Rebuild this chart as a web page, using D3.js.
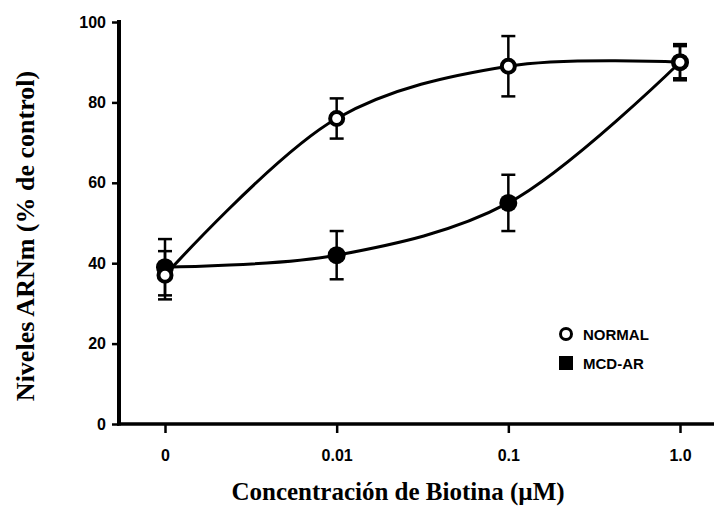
<!DOCTYPE html>
<html><head><meta charset="utf-8">
<script src="https://cdn.jsdelivr.net/npm/d3@7/dist/d3.min.js"></script>
<style>body{margin:0;background:#fff}svg{display:block}</style>
</head><body>
<svg id="c" width="714" height="507"></svg>
<script>
const categories = ["0", "0.01", "0.1", "1.0"];
const normalValues = [37, 76, 89, 90];
const normalErrors = [6, 5, 7.5, 4.5];
const mcdValues = [39, 42, 55, 90];
const mcdErrors = [7, 6, 7, 4];
const yTicks = [0, 20, 40, 60, 80, 100];
const seriesNames = ["NORMAL", "MCD-AR"];

const svg = d3.select("#c");
const x = d3.scalePoint().domain(categories).range([165, 680]);
const y = d3.scaleLinear().domain([0, 100]).range([424, 22]);
const x0 = 119;

// axes
const yAxis = svg.append("g").attr("transform", `translate(${x0},0)`)
  .call(d3.axisLeft(y).tickValues(yTicks).tickSize(7).tickPadding(6));
yAxis.select(".domain").remove();
yAxis.selectAll("line").attr("stroke", "#000").attr("stroke-width", 2.5);
yAxis.selectAll("text").attr("font-family", "Liberation Sans, Arial, sans-serif")
  .attr("font-weight", "900").attr("font-size", 16).attr("fill", "#000");

const xAxis = svg.append("g").attr("transform", `translate(0,${y(0)})`)
  .call(d3.axisBottom(x).tickSize(9).tickPadding(17));
xAxis.select(".domain").remove();
xAxis.selectAll("line").attr("stroke", "#000").attr("stroke-width", 2.5);
xAxis.selectAll("text").attr("font-family", "Liberation Sans, Arial, sans-serif")
  .attr("font-weight", "900").attr("font-size", 16).attr("fill", "#000");

svg.append("line").attr("x1", x0).attr("x2", x0).attr("y1", y(100) - 2).attr("y2", y(0) + 1.5)
  .attr("stroke", "#000").attr("stroke-width", 4);
svg.append("line").attr("x1", x0 - 2).attr("x2", 714).attr("y1", y(0)).attr("y2", y(0))
  .attr("stroke", "#000").attr("stroke-width", 3.5);

// lines
const line = d3.line().x((d, i) => x(categories[i])).y(d => y(d)).curve(d3.curveCatmullRom.alpha(0.5));
[normalValues, mcdValues].forEach(vals => {
  svg.append("path").attr("d", line(vals)).attr("fill", "none")
    .attr("stroke", "#000").attr("stroke-width", 3);
});

// error bars
function errBars(vals, errs) {
  vals.forEach((v, i) => {
    const cx = x(categories[i]);
    const g = svg.append("g").attr("stroke", "#000").attr("stroke-width", 2.5);
    g.append("line").attr("x1", cx).attr("x2", cx).attr("y1", y(v + errs[i])).attr("y2", y(v - errs[i]));
    [v + errs[i], v - errs[i]].forEach(e => {
      g.append("line").attr("x1", cx - 7).attr("x2", cx + 7).attr("y1", y(e)).attr("y2", y(e));
    });
  });
}
errBars(normalValues, normalErrors);
errBars(mcdValues, mcdErrors);

// markers
svg.selectAll(".mcd").data(mcdValues).enter().append("circle")
  .attr("cx", (d, i) => x(categories[i])).attr("cy", d => y(d)).attr("r", 9).attr("fill", "#000");
svg.selectAll(".nor").data(normalValues).enter().append("circle")
  .attr("cx", (d, i) => x(categories[i])).attr("cy", d => y(d)).attr("r", 6.5)
  .attr("fill", "#fff").attr("stroke", "#000").attr("stroke-width", 4);

// legend
const lg = svg.append("g").attr("font-family", "Liberation Sans, Arial, sans-serif")
  .attr("font-weight", "bold").attr("font-size", 15);
lg.append("circle").attr("cx", 566).attr("cy", 334).attr("r", 5.5).attr("fill", "#fff")
  .attr("stroke", "#000").attr("stroke-width", 3);
lg.append("text").attr("x", 583).attr("y", 340).text(seriesNames[0]);
lg.append("rect").attr("x", 559).attr("y", 356).attr("width", 14).attr("height", 14).attr("fill", "#000");
lg.append("text").attr("x", 583).attr("y", 369).text(seriesNames[1]);

// titles
svg.append("text").attr("transform", "translate(34,236) rotate(-90)").attr("text-anchor", "middle")
  .attr("font-family", "Liberation Serif, Times New Roman, serif").attr("font-weight", "bold")
  .attr("font-size", 26).text("Niveles ARNm (% de control)");
svg.append("text").attr("x", 398).attr("y", 500).attr("text-anchor", "middle")
  .attr("font-family", "Liberation Serif, Times New Roman, serif").attr("font-weight", "bold")
  .attr("font-size", 25).text("Concentración de Biotina (µM)");
</script>
</body></html>
